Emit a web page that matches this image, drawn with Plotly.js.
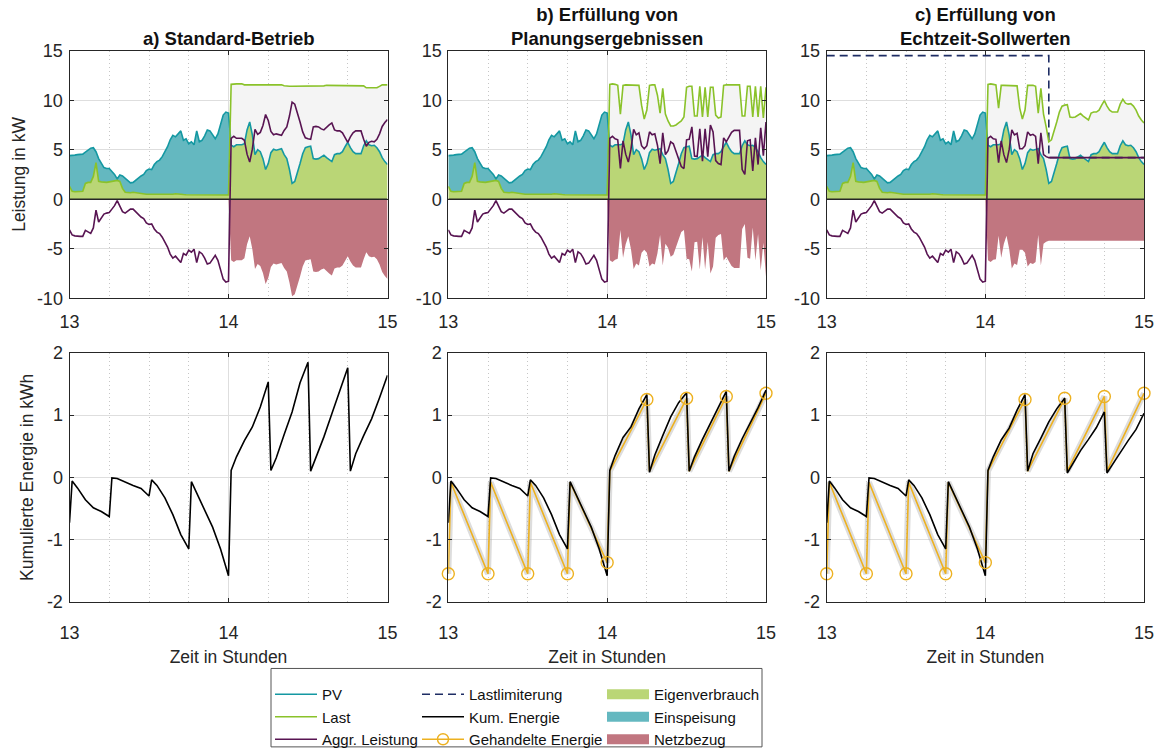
<!DOCTYPE html>
<html>
<head>
<meta charset="utf-8">
<script src="https://cdn.plot.ly/plotly-3.0.1.min.js"></script>
<style>html,body{margin:0;padding:0;background:#fff}#chart{width:1157px;height:756px}</style>
</head>
<body>
<div id="chart"></div>
<script>
// ---------- data ----------
// time in minutes after 13:00 (1-minute resolution)
const minutes = [0,1,2,3,4,5,6,7,8,9,10,11,12,13,14,15,16,17,18,19,20,21,22,23,24,25,26,27,28,29,30,
  31,32,33,34,35,36,37,38,39,40,41,42,43,44,45,46,47,48,49,50,51,52,53,54,55,56,57,58,59,60,
  61,62,63,64,65,66,67,68,69,70,71,72,73,74,75,76,77,78,79,80,81,82,83,84,85,86,87,88,89,90,
  91,92,93,94,95,96,97,98,99,100,101,102,103,104,105,106,107,108,109,110,111,112,113,114,115,116,117,118,119,120];

// PV power (kW), identical in all three cases
const pvFirstHour = [4.4,4.4,4.45,4.5,4.5,4.55,4.75,5.0,5.15,5.2,
  4.8,4.1,3.6,3.2,3.1,3.1,2.8,2.5,2.05,2.45,
  2.35,2.1,1.85,1.65,1.7,1.95,2.2,2.35,2.5,2.9,
  3.05,3.0,3.5,3.8,3.95,4.3,4.8,5.3,6.0,6.45,
  6.3,6.55,6.9,5.95,6.1,5.6,5.8,5.5,6.9,5.8,
  5.95,6.4,7.0,6.9,6.5,6.1,6.6,7.6,8.5,8.8,8.7];
const pvSecondHour = [5.45,5.3,5.5,5.5,5.5,5.6,7.0,7.8,6.5,4.5,
  5.0,4.8,4.1,3.0,3.6,4.7,5.05,4.95,5.05,5.1,
  4.5,4.1,3.0,1.6,1.8,2.6,3.6,4.6,5.2,5.3,
  5.35,4.1,4.05,4.1,4.3,4.45,4.2,4.0,3.8,4.5,
  4.6,4.6,4.8,5.3,5.75,5.2,4.8,4.6,4.6,4.6,
  5.4,5.9,5.5,5.4,5.45,5.2,4.8,4.2,3.8,3.5];

// load (kW): first hour common, second hour per case
const loadFirstHour = [1.3,0.8,0.75,0.75,0.75,0.8,1.6,1.7,1.7,2.3,
  3.7,1.8,1.75,1.7,1.7,1.75,1.8,1.85,1.9,1.8,
  1.1,0.7,0.65,0.65,0.7,0.65,0.6,0.55,0.55,0.5,
  0.5,0.5,0.5,0.48,0.48,0.47,0.47,0.47,0.46,0.5,
  0.55,0.5,0.5,0.47,0.45,0.45,0.45,0.45,0.5,0.48,
  0.45,0.45,0.45,0.45,0.45,0.43,0.43,0.43,0.43,0.43,0.43];
const loadSecondHourA = [11.6,11.65,11.65,11.65,11.65,11.55,11.55,11.55,11.55,11.55,
  11.55,11.55,11.55,11.55,11.55,11.55,11.55,11.55,11.55,11.55,
  11.45,11.4,11.4,11.4,11.4,11.4,11.4,11.4,11.4,11.4,
  11.4,11.4,11.4,11.4,11.4,11.45,11.5,11.5,11.5,11.5,
  11.5,11.5,11.5,11.5,11.5,11.5,11.5,11.5,11.5,11.5,
  11.45,11.25,11.25,11.25,11.25,11.25,11.4,11.55,11.55,11.55];
const loadSecondHourB = [11.6,11.65,11.6,11.5,8.6,11.5,11.55,11.55,11.55,11.55,
  11.5,11.5,9.5,8.1,9.0,11.5,11.55,11.55,10.5,8.7,
  11.2,8.6,7.9,7.4,7.4,7.5,7.7,7.9,8.3,11.3,
  11.4,11.4,8.4,8.4,11.4,8.3,11.3,8.3,11.3,11.3,
  8.5,8.2,8.3,11.5,11.55,11.55,11.55,11.55,11.55,11.55,
  8.4,8.4,11.4,11.4,8.3,11.4,8.3,11.4,8.2,11.3];
const loadSecondHourC = [11.6,11.65,11.6,11.55,9.2,11.5,11.5,11.5,11.5,11.5,
  11.5,11.45,9.2,8.1,9.0,11.5,11.5,11.5,11.4,8.7,
  11.2,8.6,7.3,5.8,6.0,6.8,7.8,8.8,9.4,9.5,
  9.55,8.3,8.25,8.3,8.5,8.65,8.4,8.2,8.0,8.7,
  8.8,8.8,9.0,9.5,9.95,9.4,9.0,8.8,8.8,8.8,
  9.6,10.1,9.7,9.6,9.65,9.4,9.0,8.4,8.0,7.7];

// load limit (case c)
const limitMinutes = [0,84,84,120];
const limitValues = [14.5,14.5,4.2,4.2];

// cumulative energy (kWh)
const kumMinutes = [0,1,3,6,9,12,15,16,18,21,24,27,30,31,33,36,39,42,45,46,48,51,54,57,59,60,
  61,63,66,69,72,75,76,78,81,84,87,90,91,93,96,99,102,105,106,108,111,114,117,120];
const kumFirstHour = [-0.73,-0.06,-0.17,-0.36,-0.49,-0.55,-0.63,
  -0.01,-0.02,-0.08,-0.13,-0.18,-0.30,
  -0.04,-0.13,-0.33,-0.60,-0.92,-1.15,
  -0.07,-0.25,-0.52,-0.80,-1.15,-1.42,-1.58];
const kumSecondHourA = [0.11,0.33,0.59,0.81,1.13,1.53, 0.11,0.31,0.69,1.05,1.52,1.85,
  0.10,0.31,0.65,1.02,1.40,1.76, 0.10,0.38,0.67,0.94,1.28,1.64];
const kumSecondHourB = [0.11,0.35,0.64,0.81,1.10,1.33, 0.08,0.36,0.67,0.97,1.20,1.36,
  0.10,0.33,0.61,0.86,1.11,1.38, 0.10,0.34,0.62,0.86,1.12,1.40];
const kumSecondHourC = [0.11,0.33,0.60,0.79,1.08,1.33, 0.10,0.38,0.63,0.89,1.10,1.27,
  0.07,0.22,0.43,0.61,0.80,1.05, 0.07,0.20,0.40,0.59,0.77,1.03];

// traded energy (kWh), circles at the even indices (quarter hours)
const tradedMinutes = [0,1,15,16,30,31,45,46,60,61,75,76,90,91,105,106,120];
const tradedValues = [-1.55,-0.08,-1.55,-0.08,-1.55,-0.08,-1.55,-0.08,-1.37,0.10,1.25,0.10,1.27,0.10,1.30,0.10,1.35];

// tick values and labels
const xTickVals = [13,14,15];
const xTickText = ['13','14','15'];
const yPowerTickVals = [-10,-5,0,5,10,15];
const yPowerTickText = ['-10','-5','0','5','10','15'];
const yEnergyTickVals = [-2,-1,0,1,2];
const yEnergyTickText = ['-2','-1','0','1','2'];
const panelTitles = ['<b>a) Standard-Betrieb</b>','<b>b) Erfüllung von<br>Planungsergebnissen</b>','<b>c) Erfüllung von<br>Echtzeit-Sollwerten</b>'];

// ---------- styling ----------
const FONT = 'Liberation Sans, Arial, Helvetica, sans-serif';
const C = {
  pv:'rgb(20,152,162)', last:'rgb(138,194,42)', aggr:'rgb(88,20,82)',
  eigen:'rgb(186,214,118)', einsp:'rgb(100,184,192)', netz:'rgb(193,118,128)', gray:'rgb(244,244,244)',
  limit:'rgb(30,45,100)', kum:'#000000', traded:'rgb(237,177,32)'
};
const W = 1157, H = 756;
const xDom = [[69.5,387.5],[448.3,766],[826.7,1144]].map(d=>[d[0]/W,d[1]/W]);
const yTop = [1-304.3/H, 1-51.7/H], yBot = [1-614/H, 1-360/H];

const toHours = m => 13 + m/60;
const t = minutes.map(toHours);
const pv = pvFirstHour.concat(pvSecondHour);
const loads = [loadFirstHour.concat(loadSecondHourA), loadFirstHour.concat(loadSecondHourB), loadFirstHour.concat(loadSecondHourC)];
const kums = [kumFirstHour.concat(kumSecondHourA), kumFirstHour.concat(kumSecondHourB), kumFirstHour.concat(kumSecondHourC)];
const kumT = kumMinutes.map(toHours);
const tradedT = tradedMinutes.map(toHours);
const markT = tradedT.filter((v,i)=>i%2===0), markV = tradedValues.filter((v,i)=>i%2===0);

const traces = [];
const noHover = {hoverinfo:'skip', showlegend:false};

for (let p=0; p<3; p++) {
  const xa = p===0 ? 'x' : 'x'+(p+1), ya = p===0 ? 'y' : 'y'+(p+1);
  const last = loads[p];
  const aggr = last.map((v,i)=>v - pv[i]);
  const eigen = last.map((v,i)=>Math.min(v, pv[i]));
  const netz = aggr.map(v=>-Math.max(0, v));
  const base = {x:t, xaxis:xa, yaxis:ya, mode:'lines', ...noHover};
  traces.push({...base, y:eigen, fill:'tozeroy', fillcolor:C.eigen, line:{width:0, color:C.eigen}});
  traces.push({...base, y:pv, fill:'tonexty', fillcolor:C.einsp, line:{width:0, color:C.einsp}});
  traces.push({...base, y:eigen, line:{width:0, color:C.eigen}});
  traces.push({...base, y:last, fill:'tonexty', fillcolor:C.gray, line:{width:0, color:C.gray}});
  traces.push({...base, y:netz, fill:'tozeroy', fillcolor:C.netz, line:{width:0, color:C.netz}});
  if (p===2) {
    traces.push({x:limitMinutes.map(toHours), y:limitValues, xaxis:xa, yaxis:ya, mode:'lines', name:'Lastlimiterung',
      line:{color:C.limit, width:1.6, dash:'8px,5px'}, showlegend:true, legend:'legend2', legendrank:1, hoverinfo:'skip'});
  }
  const lg = p===0;
  traces.push({...base, y:pv, name:'PV', line:{color:C.pv, width:1.6}, showlegend:lg, legend:'legend', legendrank:1});
  traces.push({...base, y:last, name:'Last', line:{color:C.last, width:1.6}, showlegend:lg, legend:'legend', legendrank:2});
  traces.push({...base, y:aggr, name:'Aggr. Leistung', line:{color:C.aggr, width:1.6}, showlegend:lg, legend:'legend', legendrank:3});

  // bottom row
  const xb = 'x'+(p+4), yb = 'y'+(p+4);
  if (p>0) {
    traces.push({x:tradedT, y:tradedValues, xaxis:xb, yaxis:yb, mode:'lines', line:{color:'rgba(170,170,170,0.4)', width:6}, ...noHover});
    traces.push({x:tradedT, y:tradedValues, xaxis:xb, yaxis:yb, mode:'lines', line:{color:C.traded, width:1.6}, ...noHover});
  }
  traces.push({x:kumT, y:kums[p], xaxis:xb, yaxis:yb, mode:'lines', name:'Kum. Energie', line:{color:C.kum, width:1.6},
    hoverinfo:'skip', showlegend:p===0, legend:'legend2', legendrank:2});
  if (p>0) {
    traces.push({x:markT, y:markV, xaxis:xb, yaxis:yb, mode:'markers', cliponaxis:false,
      marker:{symbol:'circle-open', size:12, color:C.traded, line:{width:1.4, color:C.traded}}, ...noHover});
  }
}
// legend-only entries
traces.push({x:[null], y:[null], xaxis:'x', yaxis:'y', mode:'lines+markers', name:'Gehandelte Energie',
  line:{color:C.traded, width:1.6}, marker:{symbol:'circle-open', size:11, color:C.traded, line:{width:1.4, color:C.traded}},
  legend:'legend2', legendrank:3, hoverinfo:'skip'});
[['Eigenverbrauch',C.eigen],['Einspeisung',C.einsp],['Netzbezug',C.netz]].forEach((e,i)=>{
  traces.push({x:[null], y:[null], xaxis:'x', yaxis:'y', mode:'lines', name:e[0], line:{color:e[1], width:16},
    legend:'legend3', legendrank:i+1, hoverinfo:'skip'});
});

// ---------- layout ----------
const axCommon = {
  showline:true, linecolor:'#262626', linewidth:1, mirror:'ticks', ticks:'inside', ticklen:4, tickcolor:'#262626',
  tickfont:{size:18, color:'#262626', family:FONT}, gridcolor:'#dedede', gridwidth:1, zeroline:false, fixedrange:true
};
const minorGrid = {tick0:13, dtick:0.25, showgrid:true, griddash:'1px,3px', gridcolor:'#c6c6c6', gridwidth:1, ticks:''};
const layout = {
  width:W, height:H, margin:{l:0,r:0,t:0,b:0}, paper_bgcolor:'#fff', plot_bgcolor:'#fff',
  font:{family:FONT, color:'#262626'}, showlegend:true, hovermode:false,
  shapes:[], annotations:[]
};
for (let p=0; p<3; p++) {
  const sfx = p===0 ? '' : String(p+1);
  const xCommon = {...axCommon, domain:xDom[p], range:[13,15], tickmode:'array', tickvals:xTickVals, ticktext:xTickText, minor:minorGrid};
  layout['xaxis'+sfx] = {...xCommon, anchor:'y'+sfx, ticklabelstandoff:7};
  layout['yaxis'+sfx] = {...axCommon, domain:yTop, anchor:'x'+sfx, range:[-10,15], tickmode:'array',
    tickvals:yPowerTickVals, ticktext:yPowerTickText, ticklabelstandoff:2,
    title: p===0 ? {text:'Leistung in kW', font:{size:17.5, family:FONT, color:'#262626'}, standoff:6} : undefined};
  const b = String(p+4);
  layout['xaxis'+b] = {...xCommon, anchor:'y'+b, ticklabelstandoff:15,
    title:{text:'Zeit in Stunden', font:{size:17.5, family:FONT, color:'#262626'}, standoff:8}};
  layout['yaxis'+b] = {...axCommon, domain:yBot, anchor:'x'+b, range:[-2,2], tickmode:'array',
    tickvals:yEnergyTickVals, ticktext:yEnergyTickText, ticklabelstandoff:2,
    title: p===0 ? {text:'Kumulierte Energie in kWh', font:{size:17.5, family:FONT, color:'#262626'}, standoff:8} : undefined};
  layout.shapes.push({type:'line', xref:'x'+sfx, yref:'y'+sfx, x0:13, x1:15, y0:0, y1:0, layer:'above',
    line:{color:'#262626', width:1.4}});
  layout.annotations.push({text:panelTitles[p], xref:'paper', yref:'paper', x:(xDom[p][0]+xDom[p][1])/2, y:1-52/H,
    xanchor:'center', yanchor:'bottom', showarrow:false, font:{size:18.5, family:FONT, color:'#111'}});
}
// legend frame
layout.shapes.push({type:'rect', xref:'paper', yref:'paper', x0:271/W, x1:762/W, y0:1-762/H, y1:1-682/H,
  line:{color:'#555', width:1}, fillcolor:'rgba(0,0,0,0)'});
const legCommon = {xanchor:'left', yanchor:'top', y:1-692/H, bgcolor:'rgba(0,0,0,0)', borderwidth:0,
  font:{size:15, family:FONT, color:'#111'}, itemwidth:42, tracegroupgap:0, traceorder:'normal', itemclick:false, itemdoubleclick:false};
layout.legend = {...legCommon, x:270/W};
layout.legend2 = {...legCommon, x:417/W};
layout.legend3 = {...legCommon, x:602/W};

Plotly.newPlot('chart', traces, layout, {displayModeBar:false, staticPlot:true});
</script>
</body>
</html>
